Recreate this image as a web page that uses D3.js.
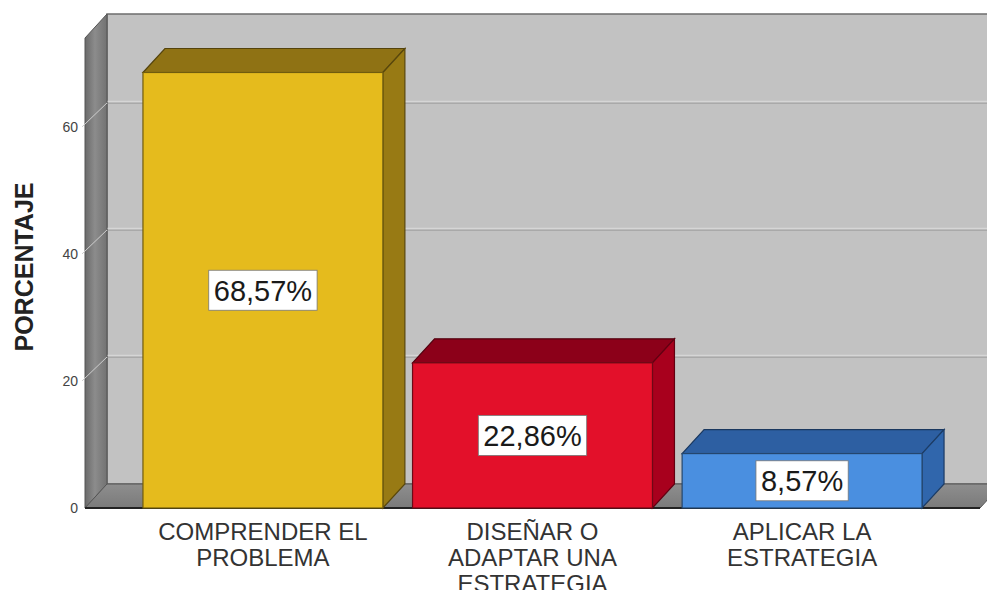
<!DOCTYPE html>
<html>
<head>
<meta charset="utf-8">
<script src="https://cdn.jsdelivr.net/npm/d3@7"></script>
<style>
  body { margin: 0; background: #fff; }
  svg { display: block; font-family: "Liberation Sans", Arial, sans-serif; }
</style>
</head>
<body>
<div id="chart"></div>
<script>
const categories = ['COMPRENDER EL PROBLEMA', 'DISEÑAR O ADAPTAR UNA ESTRATEGIA', 'APLICAR LA ESTRATEGIA'];
const labelLines = [['COMPRENDER EL', 'PROBLEMA'], ['DISEÑAR O', 'ADAPTAR UNA', 'ESTRATEGIA'], ['APLICAR LA', 'ESTRATEGIA']];
const values = [68.57, 22.86, 8.57];
const valueLabels = ['68,57%', '22,86%', '8,57%'];
const yTicks = [0, 20, 40, 60];
const frontColors = ['#e5bb1d', '#e3102a', '#4a8fe0'];
const topColors = ['#8f7214', '#8c0019', '#2d5fa2'];
const sideColors = ['#987a14', '#a8001d', '#3066ac'];

const width = 987, height = 590;
const depth = { dx: 22, dy: -24 };

const svg = d3.select('#chart').append('svg')
  .attr('width', width)
  .attr('height', height);

const x = d3.scaleBand()
  .domain(categories)
  .range([85, 980])
  .paddingInner(0.11)
  .paddingOuter(0.215);

const y = d3.scaleLinear()
  .domain([0, 74])
  .range([508, 38]);

const x0 = x.range()[0], x1 = x.range()[1];
const yBase = y(0), yTop = y(74);

const defs = svg.append('defs');
const wallGrad = defs.append('linearGradient').attr('id', 'leftWall').attr('x1', 0).attr('x2', 1).attr('y1', 0).attr('y2', 0);
wallGrad.append('stop').attr('offset', '0%').attr('stop-color', '#6a6a6a');
wallGrad.append('stop').attr('offset', '45%').attr('stop-color', '#8c8c8c');
wallGrad.append('stop').attr('offset', '100%').attr('stop-color', '#727272');

const floorGrad = defs.append('linearGradient').attr('id', 'floor').attr('x1', 0).attr('x2', 0).attr('y1', 0).attr('y2', 1);
floorGrad.append('stop').attr('offset', '0%').attr('stop-color', '#8e8e8e');
floorGrad.append('stop').attr('offset', '100%').attr('stop-color', '#7a7a7a');

// back wall
svg.append('rect')
  .attr('x', x0 + depth.dx)
  .attr('y', yTop + depth.dy)
  .attr('width', x1 - x0)
  .attr('height', yBase - yTop)
  .attr('fill', '#c2c2c2')
  .attr('stroke', '#6e6e6e')
  .attr('stroke-width', 1.5);

// gridlines on back wall
const grid = svg.append('g');
grid.selectAll('line.hi')
  .data(yTicks.slice(1))
  .enter().append('line')
  .attr('x1', x0 + depth.dx).attr('x2', x1 + depth.dx)
  .attr('y1', d => y(d) + depth.dy - 1.5).attr('y2', d => y(d) + depth.dy - 1.5)
  .attr('stroke', '#d6d6d6').attr('stroke-width', 1.2);
grid.selectAll('line.lo')
  .data(yTicks.slice(1))
  .enter().append('line')
  .attr('x1', x0 + depth.dx).attr('x2', x1 + depth.dx)
  .attr('y1', d => y(d) + depth.dy + 0.5).attr('y2', d => y(d) + depth.dy + 0.5)
  .attr('stroke', '#a9a9a9').attr('stroke-width', 1.2);

// left wall
svg.append('polygon')
  .attr('points', [[x0, yTop], [x0 + depth.dx, yTop + depth.dy], [x0 + depth.dx, yBase + depth.dy], [x0, yBase]].join(' '))
  .attr('fill', 'url(#leftWall)')
  .attr('stroke', '#555')
  .attr('stroke-width', 1);

// floor
svg.append('polygon')
  .attr('points', [[x0, yBase], [x0 + depth.dx, yBase + depth.dy], [x1 + depth.dx, yBase + depth.dy], [x1, yBase]].join(' '))
  .attr('fill', 'url(#floor)')
  .attr('stroke', '#555')
  .attr('stroke-width', 1);
svg.append('line')
  .attr('x1', x0).attr('x2', x1)
  .attr('y1', yBase).attr('y2', yBase)
  .attr('stroke', '#222').attr('stroke-width', 2);

// tick connectors across the left wall
svg.selectAll('line.tickc')
  .data(yTicks.slice(1))
  .enter().append('line')
  .attr('x1', x0 - 3).attr('y1', d => y(d))
  .attr('x2', x0 + depth.dx).attr('y2', d => y(d) + depth.dy)
  .attr('stroke', '#cfcfcf').attr('stroke-width', 1);

// y tick labels
svg.selectAll('text.ytick')
  .data(yTicks)
  .enter().append('text')
  .attr('x', 78)
  .attr('y', d => y(d) + 5)
  .attr('text-anchor', 'end')
  .attr('font-size', 14)
  .attr('fill', '#444')
  .text(d => d);

// y title
svg.append('text')
  .attr('transform', 'translate(33,' + 267 + ') rotate(-90)')
  .attr('text-anchor', 'middle')
  .attr('font-size', 25)
  .attr('font-weight', 'bold')
  .attr('fill', '#222')
  .text('PORCENTAJE');

// bars
const bars = svg.selectAll('g.bar')
  .data(values)
  .enter().append('g')
  .attr('class', 'bar');

bars.append('polygon')
  .attr('points', (d, i) => {
    const bx0 = x(categories[i]), bx1 = bx0 + x.bandwidth(), by = y(d);
    return [[bx0, by], [bx0 + depth.dx, by + depth.dy], [bx1 + depth.dx, by + depth.dy], [bx1, by]].join(' ');
  })
  .attr('fill', (d, i) => topColors[i])
  .attr('stroke', (d, i) => d3.color(topColors[i]).darker(1.5))
  .attr('stroke-width', 1.2);

bars.append('polygon')
  .attr('points', (d, i) => {
    const bx1 = x(categories[i]) + x.bandwidth(), by = y(d);
    return [[bx1, by], [bx1 + depth.dx, by + depth.dy], [bx1 + depth.dx, yBase + depth.dy], [bx1, yBase]].join(' ');
  })
  .attr('fill', (d, i) => sideColors[i])
  .attr('stroke', (d, i) => d3.color(sideColors[i]).darker(1.5))
  .attr('stroke-width', 1.2);

bars.append('rect')
  .attr('x', (d, i) => x(categories[i]))
  .attr('y', d => y(d))
  .attr('width', x.bandwidth())
  .attr('height', d => yBase - y(d))
  .attr('fill', (d, i) => frontColors[i])
  .attr('stroke', (d, i) => d3.color(frontColors[i]).darker(2))
  .attr('stroke-width', 1.2);

// value labels
const labels = svg.selectAll('g.vlabel')
  .data(values)
  .enter().append('g')
  .attr('class', 'vlabel')
  .attr('transform', (d, i) => 'translate(' + (x(categories[i]) + x.bandwidth() / 2) + ',' + ((y(d) + yBase) / 2) + ')');

labels.append('text')
  .attr('text-anchor', 'middle')
  .attr('dy', '0.36em')
  .attr('font-size', 29)
  .attr('fill', '#1a1a1a')
  .text((d, i) => valueLabels[i]);

labels.each(function() {
  const g = d3.select(this);
  const bb = g.select('text').node().getBBox();
  g.insert('rect', 'text')
    .attr('x', bb.x - 5)
    .attr('y', -20)
    .attr('width', bb.width + 10)
    .attr('height', 40)
    .attr('fill', '#fff')
    .attr('stroke', '#777')
    .attr('stroke-width', 0.8);
});

// category labels
svg.selectAll('text.xlabel')
  .data(categories)
  .enter().append('text')
  .attr('class', 'xlabel')
  .attr('x', d => x(d) + x.bandwidth() / 2)
  .attr('y', 540)
  .attr('text-anchor', 'middle')
  .attr('font-size', 24)
  .attr('fill', '#333')
  .selectAll('tspan')
  .data((d, i) => labelLines[i])
  .enter().append('tspan')
  .attr('x', function() { return this.parentNode.getAttribute('x'); })
  .attr('dy', (d, j) => j === 0 ? 0 : 26)
  .text(d => d);
</script>
</body>
</html>
